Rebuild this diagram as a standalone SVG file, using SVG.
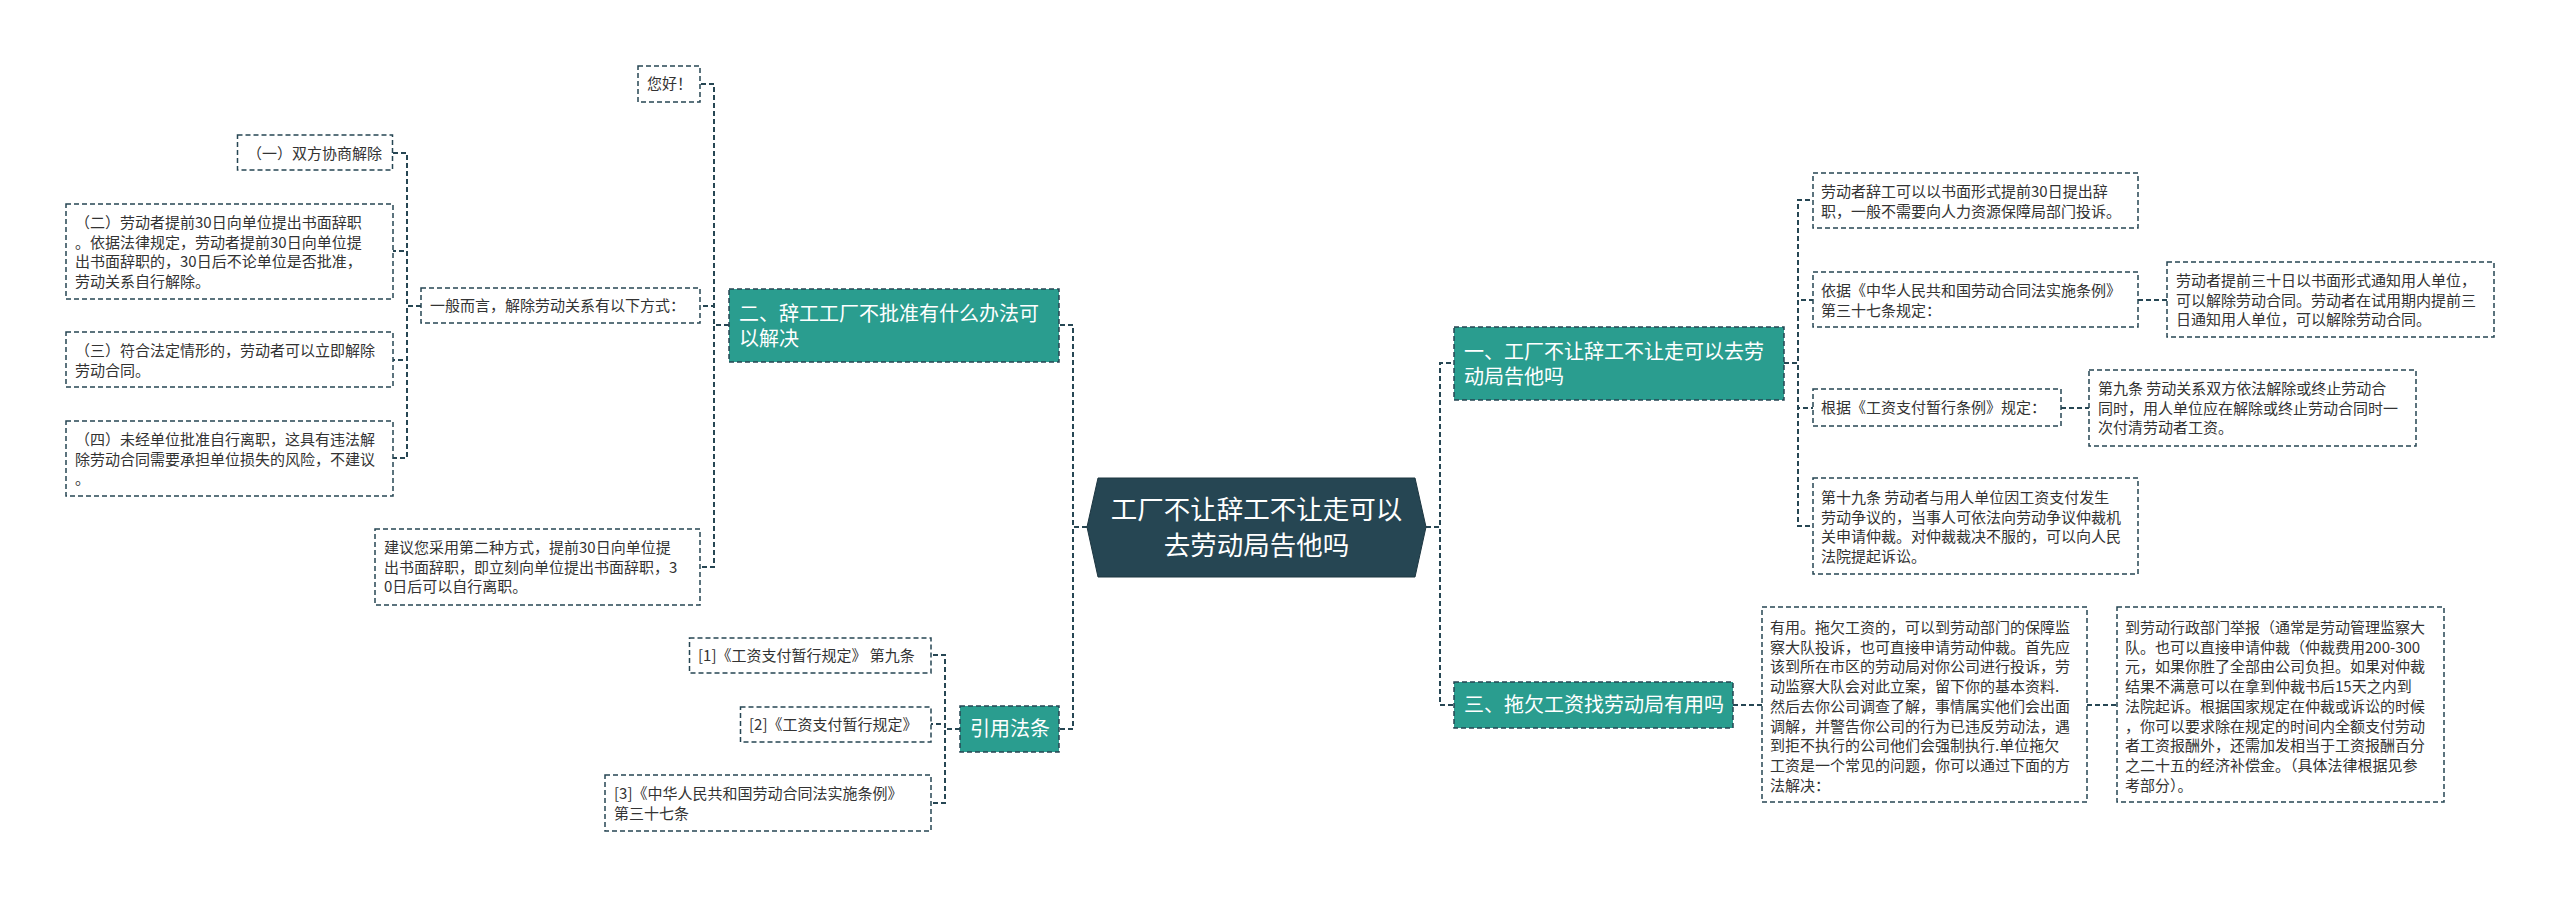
<svg xmlns="http://www.w3.org/2000/svg" width="2560" height="897" viewBox="0 0 2560 897">
<style>
.bg{fill:#ffffff}
.conn{fill:none;stroke:#264653;stroke-width:2;stroke-dasharray:5 3}
.box{fill:#ffffff;stroke:#264653;stroke-width:1.5;stroke-dasharray:5 3}
.topic{fill:#2a9d8f;stroke:#264653;stroke-width:1.5;stroke-dasharray:5 3}
.root{fill:#264653;stroke:#1d3641;stroke-width:1}
.t{font-family:"Noto Sans CJK SC","Noto Sans",sans-serif;font-size:15px;fill:#333333}
.tt{font-family:"Noto Sans CJK SC","Noto Sans",sans-serif;font-size:20px;fill:#ffffff}
.rt{font-family:"Noto Sans CJK SC","Noto Sans",sans-serif;font-size:26.5px;fill:#ffffff;text-anchor:middle}
</style>
<rect class="bg" x="0" y="0" width="2560" height="897"/>
<g id="connectors">
<path class="conn" d="M1087,527 H1073 V325 H1059"/>
<path class="conn" d="M1087,527 H1073 V729 H1059"/>
<path class="conn" d="M1426,527 H1440 V363 H1454"/>
<path class="conn" d="M1426,527 H1440 V705 H1454"/>
<path class="conn" d="M729,325 H714 V84 H700"/>
<path class="conn" d="M729,325 H714 V306 H700"/>
<path class="conn" d="M729,325 H714 V567 H700"/>
<path class="conn" d="M421,306 H407 V153 H393"/>
<path class="conn" d="M421,306 H407 V251 H393"/>
<path class="conn" d="M421,306 H407 V360 H393"/>
<path class="conn" d="M421,306 H407 V458 H393"/>
<path class="conn" d="M960,729 H945 V655 H931"/>
<path class="conn" d="M960,729 H945 V724 H931"/>
<path class="conn" d="M960,729 H945 V803 H931"/>
<path class="conn" d="M1784,363 H1798 V200 H1813"/>
<path class="conn" d="M1784,363 H1798 V300 H1813"/>
<path class="conn" d="M1784,363 H1798 V408 H1813"/>
<path class="conn" d="M1784,363 H1798 V526 H1813"/>
<path class="conn" d="M2138,300 H2167"/>
<path class="conn" d="M2061,408 H2089"/>
<path class="conn" d="M1733,705 H1762"/>
<path class="conn" d="M2087,705 H2117"/>
</g>
<g id="root">
<polygon class="root" points="1087,527 1098,478 1415,478 1426,527 1415,577 1098,577"/>
<text class="rt" x="1256.5" y="519">工厂不让辞工不让走可以</text>
<text class="rt" x="1256.5" y="555">去劳动局告他吗</text>
</g>
<g id="topic2">
<rect class="topic" x="729" y="289" width="330" height="73"/>
<text class="tt" x="739" y="321">二、辞工工厂不批准有什么办法可</text>
<text class="tt" x="739" y="346">以解决</text>
</g>
<g id="topic-cite">
<rect class="topic" x="960" y="706" width="99" height="46"/>
<text class="tt" x="970" y="736">引用法条</text>
</g>
<g id="topic1">
<rect class="topic" x="1454" y="327" width="330" height="73"/>
<text class="tt" x="1464" y="359">一、工厂不让辞工不让走可以去劳</text>
<text class="tt" x="1464" y="384">动局告他吗</text>
</g>
<g id="topic3">
<rect class="topic" x="1454" y="682" width="279" height="46"/>
<text class="tt" x="1464" y="712">三、拖欠工资找劳动局有用吗</text>
</g>
<g id="n-hello">
<rect class="box" x="638" y="66" width="62" height="36"/>
<text class="t" x="647" y="89">您好！</text>
</g>
<g id="n-general">
<rect class="box" x="421" y="288" width="279" height="35"/>
<text class="t" x="430" y="311">一般而言，解除劳动关系有以下方式：</text>
</g>
<g id="n-m1">
<rect class="box" x="237.5" y="135" width="155" height="35"/>
<text class="t" x="247" y="158.5">（一）双方协商解除</text>
</g>
<g id="n-m2">
<rect class="box" x="66" y="204" width="327" height="95"/>
<text class="t" x="75" y="228">（二）劳动者提前30日向单位提出书面辞职</text>
<text class="t" x="75" y="247.7">。依据法律规定，劳动者提前30日向单位提</text>
<text class="t" x="75" y="267.4">出书面辞职的，30日后不论单位是否批准，</text>
<text class="t" x="75" y="287.1">劳动关系自行解除。</text>
</g>
<g id="n-m3">
<rect class="box" x="66" y="332" width="327" height="55"/>
<text class="t" x="75" y="356">（三）符合法定情形的，劳动者可以立即解除</text>
<text class="t" x="75" y="375.7">劳动合同。</text>
</g>
<g id="n-m4">
<rect class="box" x="66" y="421" width="327" height="75"/>
<text class="t" x="75" y="445">（四）未经单位批准自行离职，这具有违法解</text>
<text class="t" x="75" y="464.7">除劳动合同需要承担单位损失的风险，不建议</text>
<text class="t" x="75" y="484.4">。</text>
</g>
<g id="n-advice">
<rect class="box" x="375" y="529" width="325" height="76"/>
<text class="t" x="384" y="553">建议您采用第二种方式，提前30日向单位提</text>
<text class="t" x="384" y="572.7">出书面辞职，即立刻向单位提出书面辞职，3</text>
<text class="t" x="384" y="592.4">0日后可以自行离职。</text>
</g>
<g id="n-c1">
<rect class="box" x="689.5" y="638" width="241.5" height="35"/>
<text class="t" x="698" y="661">[1]《工资支付暂行规定》 第九条</text>
</g>
<g id="n-c2">
<rect class="box" x="740.5" y="707" width="190.5" height="35"/>
<text class="t" x="749" y="730">[2]《工资支付暂行规定》</text>
</g>
<g id="n-c3">
<rect class="box" x="605" y="775" width="326" height="56"/>
<text class="t" x="614" y="799">[3]《中华人民共和国劳动合同法实施条例》</text>
<text class="t" x="614" y="818.7">第三十七条</text>
</g>
<g id="n-r1">
<rect class="box" x="1813" y="173" width="325" height="55"/>
<text class="t" x="1821" y="197">劳动者辞工可以以书面形式提前30日提出辞</text>
<text class="t" x="1821" y="216.7">职，一般不需要向人力资源保障局部门投诉。</text>
</g>
<g id="n-r2">
<rect class="box" x="1813" y="272" width="325" height="55"/>
<text class="t" x="1821" y="296">依据《中华人民共和国劳动合同法实施条例》</text>
<text class="t" x="1821" y="315.7">第三十七条规定：</text>
</g>
<g id="n-r2a">
<rect class="box" x="2167" y="262" width="327" height="75"/>
<text class="t" x="2176" y="286">劳动者提前三十日以书面形式通知用人单位，</text>
<text class="t" x="2176" y="305.7">可以解除劳动合同。劳动者在试用期内提前三</text>
<text class="t" x="2176" y="325.4">日通知用人单位，可以解除劳动合同。</text>
</g>
<g id="n-r3">
<rect class="box" x="1813" y="389" width="248" height="37"/>
<text class="t" x="1821" y="413">根据《工资支付暂行条例》规定：</text>
</g>
<g id="n-r3a">
<rect class="box" x="2089" y="370" width="327" height="76"/>
<text class="t" x="2098" y="394">第九条 劳动关系双方依法解除或终止劳动合</text>
<text class="t" x="2098" y="413.7">同时，用人单位应在解除或终止劳动合同时一</text>
<text class="t" x="2098" y="433.4">次付清劳动者工资。</text>
</g>
<g id="n-r4">
<rect class="box" x="1813" y="478" width="325" height="96"/>
<text class="t" x="1821" y="503">第十九条 劳动者与用人单位因工资支付发生</text>
<text class="t" x="1821" y="522.7">劳动争议的，当事人可依法向劳动争议仲裁机</text>
<text class="t" x="1821" y="542.4">关申请仲裁。对仲裁裁决不服的，可以向人民</text>
<text class="t" x="1821" y="562.1">法院提起诉讼。</text>
</g>
<g id="n-r5">
<rect class="box" x="1762" y="607" width="325" height="195"/>
<text class="t" x="1770" y="633">有用。拖欠工资的，可以到劳动部门的保障监</text>
<text class="t" x="1770" y="652.7">察大队投诉，也可直接申请劳动仲裁。首先应</text>
<text class="t" x="1770" y="672.4">该到所在市区的劳动局对你公司进行投诉，劳</text>
<text class="t" x="1770" y="692.1">动监察大队会对此立案，留下你的基本资料.</text>
<text class="t" x="1770" y="711.8">然后去你公司调查了解，事情属实他们会出面</text>
<text class="t" x="1770" y="731.5">调解，并警告你公司的行为已违反劳动法，遇</text>
<text class="t" x="1770" y="751.2">到拒不执行的公司他们会强制执行.单位拖欠</text>
<text class="t" x="1770" y="770.9">工资是一个常见的问题，你可以通过下面的方</text>
<text class="t" x="1770" y="790.6">法解决：</text>
</g>
<g id="n-r6">
<rect class="box" x="2117" y="607" width="327" height="195"/>
<text class="t" x="2125" y="633">到劳动行政部门举报（通常是劳动管理监察大</text>
<text class="t" x="2125" y="652.7">队。也可以直接申请仲裁（仲裁费用200-300</text>
<text class="t" x="2125" y="672.4">元，如果你胜了全部由公司负担。如果对仲裁</text>
<text class="t" x="2125" y="692.1">结果不满意可以在拿到仲裁书后15天之内到</text>
<text class="t" x="2125" y="711.8">法院起诉。根据国家规定在仲裁或诉讼的时候</text>
<text class="t" x="2125" y="731.5">，你可以要求除在规定的时间内全额支付劳动</text>
<text class="t" x="2125" y="751.2">者工资报酬外，还需加发相当于工资报酬百分</text>
<text class="t" x="2125" y="770.9">之二十五的经济补偿金。（具体法律根据见参</text>
<text class="t" x="2125" y="790.6">考部分）。</text>
</g>
</svg>
